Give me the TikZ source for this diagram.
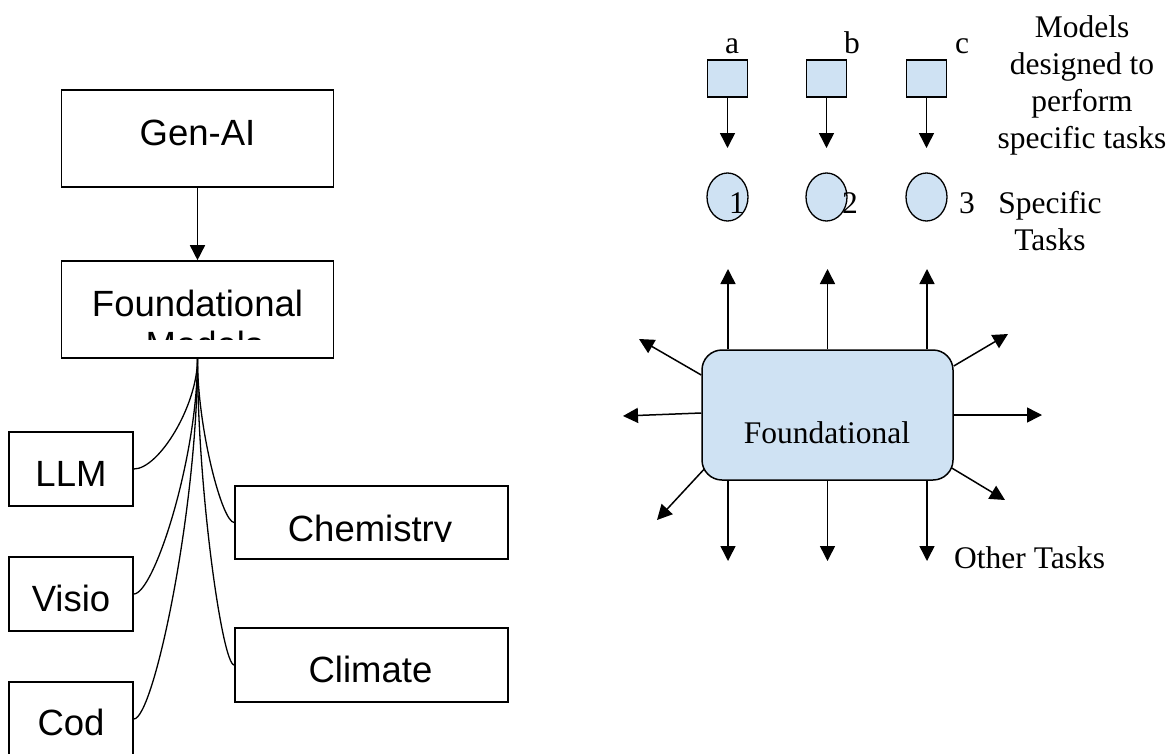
\documentclass[tikz,border=0pt]{standalone}
\usepackage{fontspec}
\setmainfont{Liberation Serif}
\setsansfont{Liberation Sans}
\usetikzlibrary{arrows.meta,shapes.geometric}
\definecolor{lblue}{HTML}{CFE2F3}
\begin{document}
\begin{tikzpicture}[x=1pt,y=-1pt,
  box/.style={draw, line width=1.6pt, inner sep=0pt},
  bigbox/.style={box, minimum width=272pt, minimum height=97pt},
  smallbox/.style={box, minimum width=124pt, minimum height=74pt},
  midbox/.style={box, minimum width=273pt, minimum height=73.5pt},
  sanstxt/.style={font=\sffamily\fontsize{36.5}{42}\selectfont, inner sep=0pt, anchor=base},
  sertxt/.style={font=\fontsize{31.5}{37}\selectfont, inner sep=0pt, anchor=base},
  sq/.style={draw, fill=lblue, line width=1.3pt, minimum width=40pt, minimum height=37pt, inner sep=0pt},
  circ/.style={draw, fill=lblue, ellipse, line width=1.3pt, minimum width=41pt, minimum height=48pt, inner sep=0pt},
  arr/.style={-{Triangle[length=15pt,width=15pt]}, line width=1.5pt},
  fan/.style={line width=1.3pt}
]
\useasboundingbox (0,0) rectangle (1170,753);

% ---------------- left diagram ----------------
\node[bigbox] (genai) at (197.5,138.5) {};
\node[sanstxt] (genaiT) at (197.5,145) {Gen-AI};

\node[bigbox] (fm) at (197.5,309.5) {};
\begin{scope}
  \clip (61,261) rectangle (334,339.5);
  \node[sanstxt] (fmT) at (197.5,316) {Foundational};
  \node[sanstxt, anchor=base west] (fmT2) at (145.5,357) {Models};
\end{scope}

\draw[arr] (genai.south) -- (fm.north);

\node[smallbox] (llm) at (71,469) {};
\node[sanstxt] (llmT) at (71,486) {LLM};
\node[smallbox] (visio) at (71,594) {};
\node[sanstxt] (visioT) at (71,611) {Visio};
\node[smallbox] (cod) at (71,719) {};
\node[sanstxt] (codT) at (71,735) {Cod};

\node[midbox] (chem) at (371.5,522.5) {};
\begin{scope}
  \clip (236,487) rectangle (507,541.6);
  \node[sanstxt] (chemT) at (370,541) {Chemistry};
\end{scope}
\node[midbox] (clim) at (371.5,665) {};
\node[sanstxt] (climT) at (370.5,682) {Climate};

\draw[fan] (fm.south) .. controls +(0,47) and +(25,0) .. (llm.east);
\draw[fan] (fm.south) .. controls +(0,100) and +(20,0) .. (visio.east);
\draw[fan] (fm.south) .. controls +(0,150) and +(20,0) .. (cod.east);
\draw[fan] (fm.south) .. controls +(0,70) and +(-12,0) .. (chem.west);
\draw[fan] (fm.south) .. controls +(0,130) and +(-12,0) .. (clim.west);

% ---------------- right diagram ----------------
\node[sq] (sa) at (727.5,78.5) {};
\node[sq] (sb) at (826.5,78.5) {};
\node[sq] (sc) at (926.5,78.5) {};
\node[sertxt] (la) at (732,53) {a};
\node[sertxt] (lb) at (852,53) {b};
\node[sertxt] (lc) at (962,53) {c};

\coordinate (ta) at (727.5,148);
\coordinate (tb) at (826.5,148);
\coordinate (tc) at (926.5,148);
\draw[arr] (sa.south) -- (ta);
\draw[arr] (sb.south) -- (tb);
\draw[arr] (sc.south) -- (tc);

\node[circ] (c1) at (727.5,197) {};
\node[circ] (c2) at (826.5,197) {};
\node[circ] (c3) at (926.5,197) {};
\node[sertxt] (n1) at (737,213) {1};
\node[sertxt] (n2) at (850,213) {2};
\node[sertxt] (n3) at (967,213) {3};

\node[sertxt, anchor=north, align=center] (models) at (1082,15.5)
  {Models\\designed to\\perform\\specific tasks};
\node[sertxt, anchor=north, align=center] (spec) at (1050,191.5)
  {Specific\\Tasks};

\node[draw, fill=lblue, rounded corners=20pt, line width=1.5pt,
      minimum width=251pt, minimum height=130pt, inner sep=0pt] (fbox) at (827.5,415) {};
\node[sertxt] (fboxT) at (827,443) {Foundational};

\coordinate (u1) at (728,269);
\coordinate (u2) at (827.5,269);
\coordinate (u3) at (927,269);
\coordinate (d1) at (728,561);
\coordinate (d2) at (827.5,561);
\coordinate (d3) at (927,561);
\coordinate (ul) at (639,339);
\coordinate (ll) at (623,416);
\coordinate (dl) at (657,520);
\coordinate (ur) at (1008,334);
\coordinate (rr) at (1042,415);
\coordinate (dr) at (1005,500);

\draw[arr] ([xshift=-99.5pt]fbox.north) -- (u1);
\draw[arr] (fbox.north) -- (u2);
\draw[arr] ([xshift=99.5pt]fbox.north) -- (u3);
\draw[arr] ([xshift=-99.5pt]fbox.south) -- (d1);
\draw[arr] (fbox.south) -- (d2);
\draw[arr] ([xshift=99.5pt]fbox.south) -- (d3);
\draw[arr] ([yshift=40pt]fbox.west) -- (ul);
\draw[arr] ([yshift=2pt]fbox.west) -- (ll);
\draw[arr] ([xshift=3pt,yshift=-54pt]fbox.west) -- (dl);
\draw[arr] ([yshift=49pt]fbox.east) -- (ur);
\draw[arr] (fbox.east) -- (rr);
\draw[arr] ([xshift=-2pt,yshift=-53pt]fbox.east) -- (dr);

\node[sertxt, anchor=base west] (other) at (954,568) {Other Tasks};
\end{tikzpicture}
\end{document}
